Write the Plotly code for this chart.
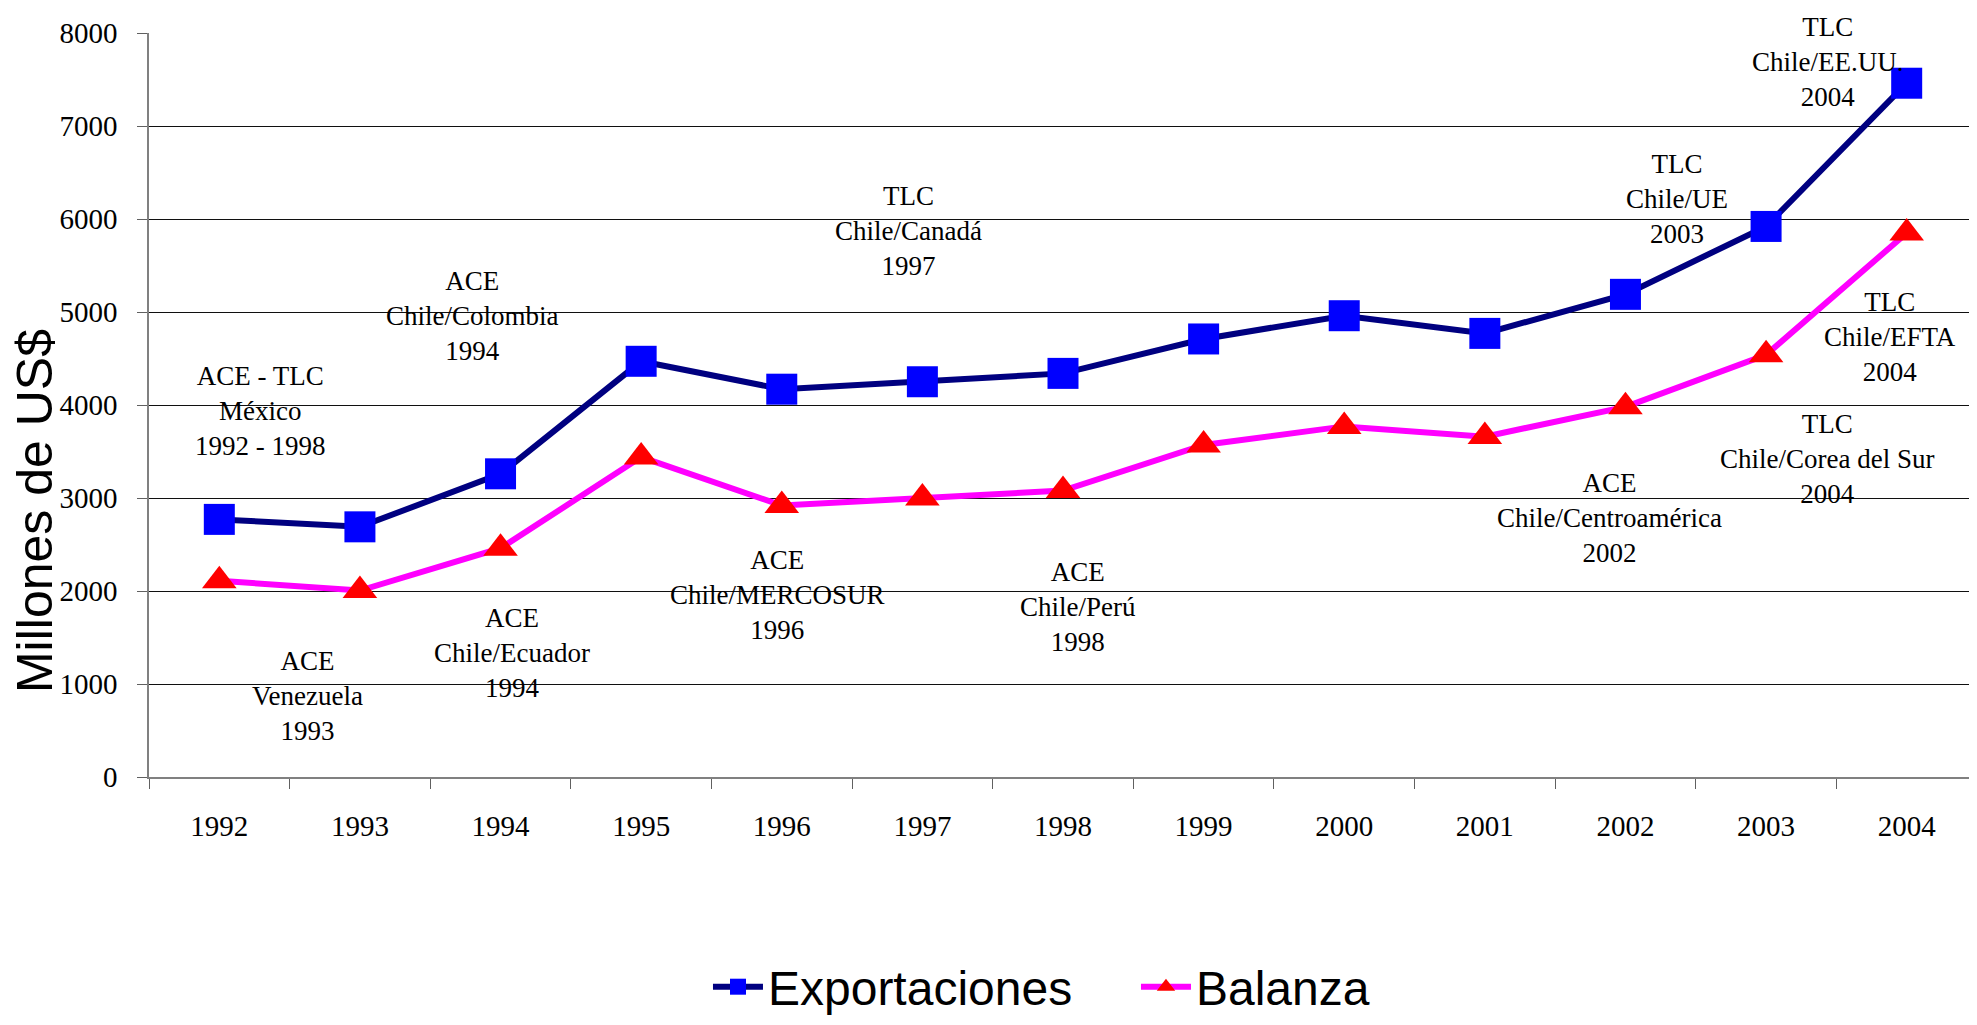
import plotly.graph_objects as go

years = ["1992", "1993", "1994", "1995", "1996", "1997", "1998",
         "1999", "2000", "2001", "2002", "2003", "2004"]
exportaciones = [2770, 2690, 3260, 4470, 4170, 4250, 4340,
                 4710, 4960, 4770, 5190, 5920, 7460]
balanza = [2110, 2005, 2460, 3440, 2920, 3000, 3080,
           3570, 3770, 3660, 3980, 4540, 5850]

# agreement labels: (text, x position in category index, y position in US$ millions)
acuerdos_text = [
    "ACE - TLC<br>México<br>1992 - 1998",
    "ACE<br>Chile/Colombia<br>1994",
    "TLC<br>Chile/Canadá<br>1997",
    "TLC<br>Chile/EE.UU.<br>2004",
    "TLC<br>Chile/UE<br>2003",
    "TLC<br>Chile/EFTA<br>2004",
    "TLC<br>Chile/Corea del Sur<br>2004",
    "ACE<br>Chile/Centroamérica<br>2002",
    "ACE<br>Chile/MERCOSUR<br>1996",
    "ACE<br>Chile/Perú<br>1998",
    "ACE<br>Chile/Ecuador<br>1994",
    "ACE<br>Venezuela<br>1993",
]
acuerdos_x = [0.29, 1.80, 4.90, 11.44, 10.37, 11.88, 11.43, 9.89, 3.97, 6.11, 2.08, 0.63]
acuerdos_y = [3935, 4960, 5870, 7690, 6215, 4730, 3420, 2785, 1960, 1830, 1335, 870]

serif = "Liberation Serif, Times New Roman, serif"
sans = "Liberation Sans, Arial, sans-serif"

fig = go.Figure()
fig.add_trace(go.Scatter(
    x=years, y=exportaciones, name="Exportaciones", mode="lines+markers",
    line=dict(color="#000080", width=6),
    marker=dict(symbol="square", size=31, color="#0000FF", line=dict(width=0)),
))
fig.add_trace(go.Scatter(
    x=years, y=balanza, name="Balanza", mode="lines+markers",
    line=dict(color="#FF00FF", width=6),
    marker=dict(symbol="triangle-up", size=30, color="#FF0000", line=dict(width=0)),
))

for t, ax, ay in zip(acuerdos_text, acuerdos_x, acuerdos_y):
    fig.add_annotation(x=ax, y=ay, xref="x", yref="y", text=t, showarrow=False,
                       xanchor="center", yanchor="middle", align="center",
                       font=dict(family=serif, size=27, color="black"))

fig.add_annotation(x=-0.062, y=0.357, xref="paper", yref="paper",
                   text="Millones de US$", textangle=-90, showarrow=False,
                   xanchor="center", yanchor="middle",
                   font=dict(family=sans, size=50, color="black"))

fig.update_layout(
    width=1969, height=1017,
    margin=dict(l=141, r=0, t=25, b=248),
    paper_bgcolor="white", plot_bgcolor="white",
    showlegend=True,
    legend=dict(orientation="h", xref="container", yref="container",
                x=0.3555, y=-0.011, xanchor="left", yanchor="bottom",
                entrywidth=363, entrywidthmode="pixels", itemwidth=50,
                font=dict(family=sans, size=48, color="black"),
                bgcolor="rgba(0,0,0,0)", itemsizing="trace"),
    xaxis=dict(type="category", range=[-0.5, 12.5], tickson="boundaries",
               ticks="outside", ticklen=10, tickcolor="#606060", tickwidth=1,
               showline=True, linecolor="#808080", linewidth=2,
               showgrid=False, ticklabelstandoff=22,
               tickfont=dict(family=serif, size=29, color="black")),
    yaxis=dict(range=[0, 8000], dtick=1000, tick0=0,
               ticks="outside", ticklen=10, tickcolor="#606060", tickwidth=1,
               showline=True, linecolor="#808080", linewidth=1.5,
               showgrid=True, gridcolor="#101010", gridwidth=1,
               zeroline=False, ticklabelstandoff=14,
               tickfont=dict(family=serif, size=29, color="black")),
)

fig.write_html("out.html")
